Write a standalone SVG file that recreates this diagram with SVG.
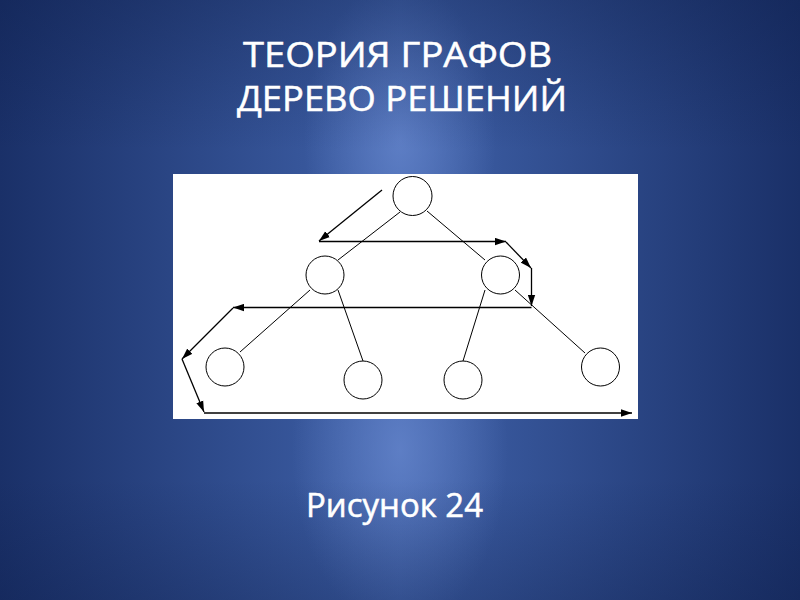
<svg xmlns="http://www.w3.org/2000/svg" width="800" height="600" viewBox="0 0 800 600">
<defs>
  <linearGradient id="bgH" x1="0" y1="0" x2="1" y2="0">
    <stop offset="0" stop-color="#1a3068"/>
    <stop offset="0.5" stop-color="#4062aa"/>
    <stop offset="1" stop-color="#1a3068"/>
  </linearGradient>
  <linearGradient id="bgV" x1="0" y1="0" x2="0" y2="1">
    <stop offset="0" stop-color="#0c1c48" stop-opacity="0.35"/>
    <stop offset="0.25" stop-color="#0c1c48" stop-opacity="0"/>
    <stop offset="0.8" stop-color="#0c1c48" stop-opacity="0"/>
    <stop offset="1" stop-color="#0c1c48" stop-opacity="0.3"/>
  </linearGradient>
  <radialGradient id="glow1" cx="400" cy="140" r="160" gradientUnits="userSpaceOnUse" gradientTransform="translate(400 140) scale(0.6 1) translate(-400 -140)">
    <stop offset="0" stop-color="#6a8ad0" stop-opacity="0.7"/>
    <stop offset="1" stop-color="#6a8ad0" stop-opacity="0"/>
  </radialGradient>
  <radialGradient id="glow2" cx="400" cy="450" r="180" gradientUnits="userSpaceOnUse" gradientTransform="translate(400 450) scale(0.6 1) translate(-400 -450)">
    <stop offset="0" stop-color="#6a8ad0" stop-opacity="0.7"/>
    <stop offset="1" stop-color="#6a8ad0" stop-opacity="0"/>
  </radialGradient>
  <marker id="ah" viewBox="0 0 12 8" refX="12" refY="4" markerWidth="11" markerHeight="8" markerUnits="userSpaceOnUse" orient="auto">
    <path d="M0,0 L12,4 L0,8 z" fill="#000"/>
  </marker>
  <style>
    .title { font-family: "Open Sans", "DejaVu Sans", sans-serif; fill: #ffffff; stroke: #ffffff; stroke-width: 0.5; text-anchor: middle; }
    .node { fill: #ffffff; stroke: #000; stroke-width: 1; }
    .edge { stroke: #000; stroke-width: 1; fill: none; }
    .arrow { stroke: #000; stroke-width: 1.3; fill: none; marker-end: url(#ah); }
  </style>
</defs>
<rect x="0" y="0" width="800" height="600" fill="url(#bgH)"/>
<rect x="0" y="0" width="800" height="600" fill="url(#glow1)"/>
<rect x="0" y="0" width="800" height="600" fill="url(#glow2)"/>
<rect x="0" y="0" width="800" height="600" fill="url(#bgV)"/>

<text class="title" x="397.5" y="67" font-size="35" textLength="309" lengthAdjust="spacingAndGlyphs">ТЕОРИЯ ГРАФОВ</text>
<text class="title" x="402" y="111" font-size="35" textLength="330" lengthAdjust="spacingAndGlyphs">ДЕРЕВО РЕШЕНИЙ</text>
<text class="title" x="394.5" y="517" font-size="32" textLength="177" lengthAdjust="spacingAndGlyphs">Рисунок 24</text>

<rect x="173" y="174" width="465" height="245" fill="#ffffff"/>

<g id="edges">
  <line class="edge" x1="400" y1="212" x2="338" y2="260"/>
  <line class="edge" x1="427" y1="211" x2="485" y2="260"/>
  <line class="edge" x1="310" y1="290" x2="240" y2="352"/>
  <line class="edge" x1="338" y1="290" x2="363" y2="361"/>
  <line class="edge" x1="485" y1="290" x2="463" y2="361"/>
  <line class="edge" x1="515" y1="290" x2="585" y2="353"/>
</g>

<g id="connectors">
  <line class="arrow" x1="382" y1="190" x2="319" y2="241"/>
  <line class="arrow" x1="319" y1="241.5" x2="506" y2="241.5"/>
  <line class="arrow" x1="506" y1="242" x2="531" y2="268"/>
  <line class="arrow" x1="531.5" y1="268" x2="531.5" y2="306"/>
  <line class="arrow" x1="531.5" y1="307.5" x2="233" y2="307.5"/>
  <line class="arrow" x1="233" y1="308" x2="182" y2="359"/>
  <line class="arrow" x1="182" y1="359" x2="204" y2="412"/>
  <line class="arrow" x1="204" y1="413" x2="632" y2="413"/>
</g>

<g id="root"><circle class="node" cx="412.5" cy="196" r="19.5"/></g>
<g id="left-child"><circle class="node" cx="325" cy="275" r="19"/></g>
<g id="right-child"><circle class="node" cx="500.5" cy="275" r="19"/></g>
<g id="leaf-1"><circle class="node" cx="225" cy="367" r="19"/></g>
<g id="leaf-2"><circle class="node" cx="363" cy="380" r="19"/></g>
<g id="leaf-3"><circle class="node" cx="463" cy="380" r="19"/></g>
<g id="leaf-4"><circle class="node" cx="600.5" cy="367" r="19"/></g>
</svg>
